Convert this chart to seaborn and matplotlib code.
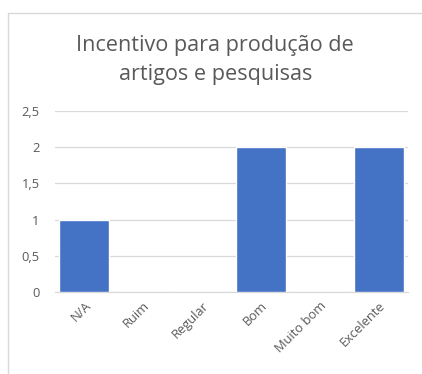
import matplotlib
matplotlib.use("Agg")
import matplotlib.pyplot as plt
import seaborn as sns
import pandas as pd
from matplotlib.patches import Rectangle

# =========================
# DATA
# =========================

categorias = ["N/A", "Ruim", "Regular", "Bom", "Muito bom", "Excelente"]
valores = [1, 0, 0, 2, 0, 2]
y_ticks = [0, 0.5, 1, 1.5, 2, 2.5]
y_labels = ["0", "0,5", "1", "1,5", "2", "2,5"]

df = pd.DataFrame({"categoria": categorias, "valor": valores})

# =========================
# STYLE
# =========================

sns.set_style("white")
plt.rcParams["font.family"] = ["Open Sans", "DejaVu Sans"]

texto = "#595959"
grade = "#D9D9D9"

fig = plt.figure(figsize=(4.22, 3.74), dpi=100)
ax = fig.add_axes([0.130, 0.219, 0.837, 0.484])

sns.barplot(
    data=df,
    x="categoria",
    y="valor",
    color="#4472C4",
    width=0.85,
    saturation=1,
    ax=ax,
    zorder=3
)

ax.set_ylim(0, 2.5)
ax.set_xlim(-0.5, len(categorias) - 0.5)
ax.set_yticks(y_ticks)
ax.set_yticklabels(y_labels)
ax.yaxis.grid(True, color=grade, linewidth=0.9, zorder=0)
ax.set_axisbelow(True)

ax.set_xlabel("")
ax.set_ylabel("")

for lado in ["left", "right", "top"]:
    ax.spines[lado].set_visible(False)
ax.spines["bottom"].set_color(grade)
ax.spines["bottom"].set_linewidth(0.9)

ax.tick_params(axis="both", length=0, colors=texto, labelsize=9.3)
ax.tick_params(axis="y", pad=11)
ax.tick_params(axis="x", pad=5)
plt.setp(ax.get_xticklabels(), rotation=45, ha="right",
         rotation_mode="anchor")

fig.text(
    0.51, 0.84,
    "Incentivo para produção de\nartigos e pesquisas",
    ha="center", va="center",
    fontsize=15.6, color=texto, linespacing=1.5
)

# chart border
fig.patches.append(Rectangle(
    (8 / 422, -0.1), 1.2, 1 - 13 / 374 + 0.1,
    transform=fig.transFigure, fill=False,
    edgecolor="#D9D9D9", linewidth=1.0
))

plt.savefig("out.png", dpi=100, facecolor="white")
